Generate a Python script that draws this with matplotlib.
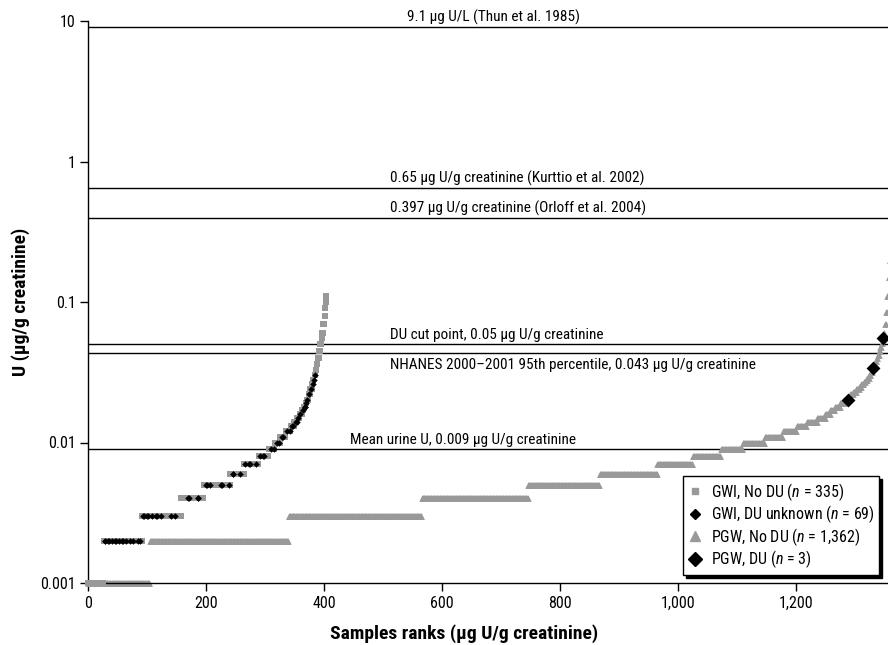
import numpy as np
import matplotlib
matplotlib.use("Agg")
import matplotlib.pyplot as plt
from matplotlib.lines import Line2D
from matplotlib.ticker import FixedLocator, FuncFormatter

FONT = ["Roboto Condensed", "DejaVu Sans"]
plt.rcParams["font.family"] = FONT
plt.rcParams["mathtext.fontset"] = "custom"
plt.rcParams["mathtext.rm"] = "Roboto Condensed"
plt.rcParams["mathtext.it"] = "Roboto Condensed:italic"

# GWI samples (sorted): urine U level and number of ranks at that level
gwi_levels = [0.001, 0.002, 0.003, 0.004, 0.005, 0.006, 0.007, 0.008, 0.009, 0.010,
              0.011, 0.012, 0.013, 0.014, 0.015, 0.016, 0.017, 0.018, 0.019, 0.020,
              0.022, 0.024, 0.026, 0.028, 0.030, 0.033, 0.036, 0.040, 0.045, 0.050,
              0.055, 0.060, 0.070, 0.080, 0.090, 0.100, 0.110]
gwi_counts = [27, 65, 66, 38, 45, 24, 24, 17, 11, 9,
              9, 9, 6, 5, 4, 4, 3, 3, 2, 3,
              3, 3, 2, 2, 2, 2, 2, 2, 2, 2,
              1, 2, 2, 1, 1, 1, 1]
# ranks of GWI samples with DU exposure unknown
gwi_du_unknown_ranks = [28, 29, 34, 35, 40, 46, 47, 52, 58, 59, 64, 71, 76, 84, 88,
                        94, 95, 100, 101, 108, 116, 117, 124, 140, 148,
                        170, 171, 186, 187,
                        200, 201, 207, 226, 227, 239,
                        245, 246, 258,
                        266, 273, 274, 284,
                        291, 297, 298,
                        310, 315, 321, 324, 329, 331, 338, 342, 346, 348,
                        352, 354, 356, 360, 364, 367, 368, 370, 372, 375,
                        378, 381, 383, 385]

# PGW samples (sorted)
pgw_levels = [0.001, 0.002, 0.003, 0.004, 0.005, 0.006, 0.007, 0.008, 0.009, 0.010,
              0.011, 0.012, 0.013, 0.014, 0.015, 0.016, 0.017, 0.018, 0.019, 0.020,
              0.021, 0.022, 0.023, 0.024, 0.025, 0.026, 0.027, 0.028, 0.029, 0.030,
              0.032, 0.034, 0.036, 0.038, 0.040, 0.042, 0.045, 0.048, 0.051, 0.055,
              0.060, 0.070, 0.085, 0.11, 0.15, 0.2, 0.3, 0.5]
pgw_counts = [105, 235, 226, 180, 121, 98, 60, 48, 37, 37,
              31, 23, 17, 18, 14, 8, 8, 9, 7, 7,
              3, 5, 5, 5, 4, 4, 3, 3, 3, 3,
              3, 3, 2, 2, 2, 2, 2, 2, 2, 2,
              2, 2, 2, 2, 2, 2, 2, 1]
pgw_du_ranks = [1288, 1331, 1348]

# reference levels
ref_values = [9.1, 0.65, 0.397, 0.05, 0.043, 0.009]
ref_labels = ["9.1 µg U/L (Thun et al. 1985)",
              "0.65 µg U/g creatinine (Kurttio et al. 2002)",
              "0.397 µg U/g creatinine (Orloff et al. 2004)",
              "DU cut point, 0.05 µg U/g creatinine",
              "NHANES 2000–2001 95th percentile, 0.043 µg U/g creatinine",
              "Mean urine U, 0.009 µg U/g creatinine"]
ref_label_x = [541, 512, 512, 512, 512, 444]
ref_label_above = [True, True, True, True, False, True]

legend_labels = ["GWI, No DU ($n$ = 335)", "GWI, DU unknown ($n$ = 69)",
                 "PGW, No DU ($n$ = 1,362)", "PGW, DU ($n$ = 3)"]

GREY = "#999999"

gwi = np.repeat(gwi_levels, gwi_counts)
gwi_rank = np.arange(len(gwi))
unk = np.array(gwi_du_unknown_ranks)
gwi_no = np.setdiff1d(gwi_rank, unk)

pgw = np.repeat(pgw_levels, pgw_counts)
pgw_rank = np.arange(len(pgw))
du = np.array(pgw_du_ranks)
pgw_no = np.setdiff1d(pgw_rank, du)

fig = plt.figure(figsize=(8.88, 6.45), dpi=100)
ax = fig.add_axes([88 / 888, 1 - 583 / 645, 800 / 888, 562 / 645])
ax.set_yscale("log")
ax.set_xlim(0, 1356)
ax.set_ylim(0.001, 10)

for v in ref_values:
    ax.axhline(v, color="black", lw=1.0, zorder=1)

ax.scatter(pgw_no, pgw[pgw_no], marker="^", s=22, color=GREY, linewidths=0,
           zorder=2, clip_on=False)
ax.scatter(gwi_no, gwi[gwi_no], marker="s", s=14, color=GREY, linewidths=0,
           zorder=3, clip_on=False)
ax.scatter(unk, gwi[unk], marker="D", s=11, color="black", linewidths=0, zorder=4)
ax.scatter(du, pgw[du], marker="D", s=50, color="black", linewidths=0, zorder=5)

for v, lab, x, above in zip(ref_values, ref_labels, ref_label_x, ref_label_above):
    if above:
        ax.annotate(lab, (x, v), xytext=(0, 1.5), textcoords="offset points",
                    ha="left", va="bottom", fontsize=11)
    else:
        ax.annotate(lab, (x, v), xytext=(0, -3), textcoords="offset points",
                    ha="left", va="top", fontsize=11)

ax.yaxis.set_major_locator(FixedLocator([0.001, 0.01, 0.1, 1, 10]))
ax.yaxis.set_minor_locator(FixedLocator([]))
ax.yaxis.set_major_formatter(FuncFormatter(lambda v, p: f"{v:g}"))
ax.set_xticks(np.arange(0, 1201, 200))
ax.xaxis.set_major_formatter(FuncFormatter(lambda v, p: f"{int(v):,}"))
ax.tick_params(axis="both", direction="out", length=6, width=1, labelsize=11.5,
               color="black", pad=3)
for side in ("top", "right"):
    ax.spines[side].set_visible(False)
for side in ("left", "bottom"):
    ax.spines[side].set_linewidth(1.0)

ax.set_ylabel("U (µg/g creatinine)", fontsize=14, fontweight="bold")
ax.set_xlabel("Samples ranks (µg U/g creatinine)", fontsize=14, fontweight="bold")
ax.xaxis.set_label_coords(0.47, -0.074)
ax.yaxis.set_label_coords(-0.072, 0.5)

handles = [
    Line2D([], [], ls="none", marker="s", ms=5, color=GREY),
    Line2D([], [], ls="none", marker="D", ms=5, color="black"),
    Line2D([], [], ls="none", marker="^", ms=7, color=GREY),
    Line2D([], [], ls="none", marker="D", ms=7, color="black"),
]
leg = ax.legend(handles, legend_labels, loc="lower right",
                bbox_to_anchor=(0.989, 0.014), borderaxespad=0, fontsize=11.5,
                frameon=True, fancybox=False, edgecolor="black", framealpha=1,
                shadow={"color": "black", "alpha": 1, "ox": 2, "oy": -2},
                handlelength=0.8, handletextpad=0.6, borderpad=0.3,
                labelspacing=0.05)
leg.get_frame().set_linewidth(1.0)

fig.savefig("out.png", dpi=100)
